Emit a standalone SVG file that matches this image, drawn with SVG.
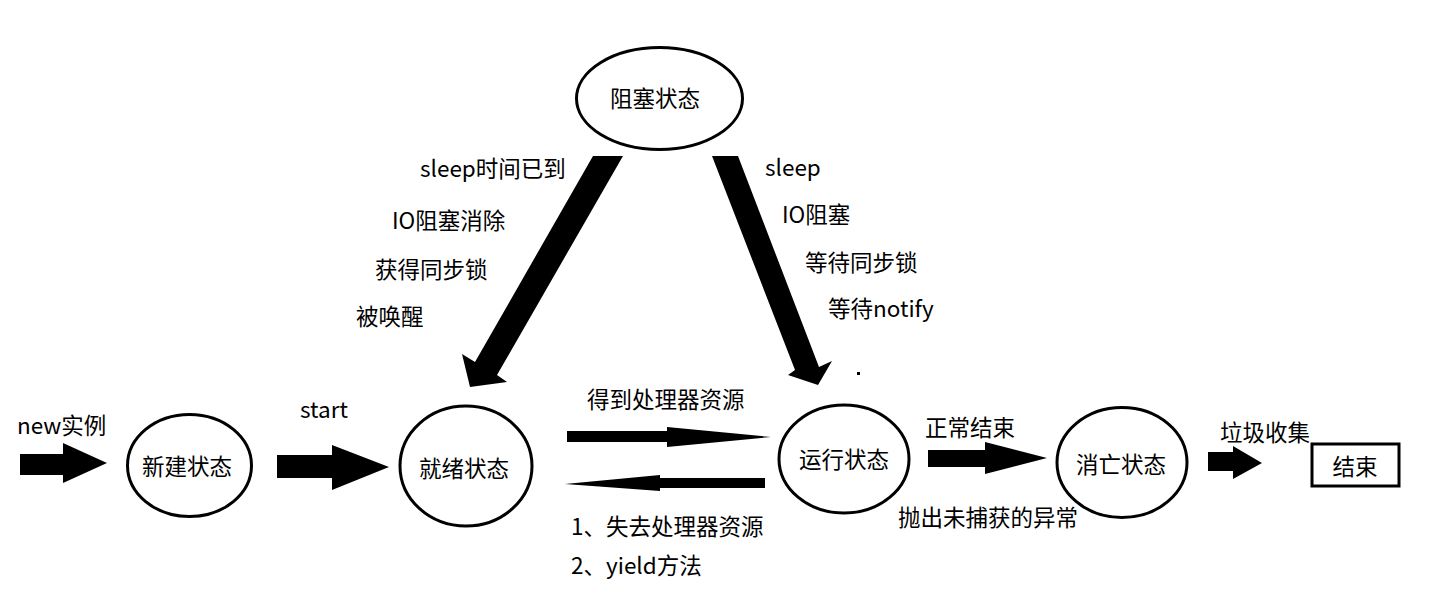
<svg xmlns="http://www.w3.org/2000/svg" width="1430" height="602" viewBox="0 0 1430 602">
<style>
.node{fill:#fff;stroke:#000;stroke-width:3}
.t{font-family:"Noto Sans CJK SC","Liberation Sans",sans-serif;font-size:22.5px;fill:#000}
.c{text-anchor:middle;dominant-baseline:central}
.arr{fill:#000;stroke:none}
</style>
<rect width="1430" height="602" fill="#fff"/>
<g id="connectors">
<polygon class="arr" points="20,454 63,454 63,443 107,463 63,483 63,475 20,475"/>
<polygon class="arr" points="277,455 332,455 332,445 389,467 332,490 332,478 277,478"/>
<polygon class="arr" points="593,156 623,156 497,375 507,382 470,387 462,354 475,362"/>
<polygon class="arr" points="712,156 738,156 819,367 832,361 818,385 788,375 795,370"/>
<polygon class="arr" points="567,431 667,431 667,427 771,437 667,447 667,442 567,442"/>
<polygon class="arr" points="765,478 660,478 660,475 565,484 660,491 660,488 765,488"/>
<polygon class="arr" points="928,450 985,450 985,442 1047,458 985,474 985,467 928,467"/>
<polygon class="arr" points="1208,452 1233,452 1233,446 1262,463 1233,479 1233,471 1208,471"/>
<rect x="857" y="372" width="3" height="3" fill="#000"/>
</g>
<g id="n-block"><ellipse class="node" cx="659.5" cy="98.5" rx="83" ry="51"/><text class="t c" x="655" y="97">阻塞状态</text></g>
<g id="n-new"><ellipse class="node" cx="189.5" cy="465.5" rx="62" ry="51"/><text class="t c" x="187" y="465">新建状态</text></g>
<g id="n-ready"><ellipse class="node" cx="466" cy="466" rx="66" ry="60"/><text class="t c" x="464" y="467">就绪状态</text></g>
<g id="n-run"><ellipse class="node" cx="844" cy="459" rx="65" ry="54"/><text class="t c" x="844" y="458">运行状态</text></g>
<g id="n-dead"><ellipse class="node" cx="1122" cy="462.5" rx="65" ry="55"/><text class="t c" x="1121" y="463">消亡状态</text></g>
<g id="n-end"><rect class="node" x="1312" y="444" width="87" height="42"/><text class="t c" x="1355" y="465">结束</text></g>
<g id="labels">
<text class="t" x="17" y="434">new实例</text>
<text class="t" x="300" y="418">start</text>
<text class="t" x="420" y="177">sleep时间已到</text>
<text class="t" x="392" y="229">IO阻塞消除</text>
<text class="t" x="375" y="278">获得同步锁</text>
<text class="t" x="356" y="325">被唤醒</text>
<text class="t" x="765" y="176">sleep</text>
<text class="t" x="782" y="223">IO阻塞</text>
<text class="t" x="805" y="271">等待同步锁</text>
<text class="t" x="828" y="317">等待notify</text>
<text class="t" x="587" y="408">得到处理器资源</text>
<text class="t" x="571" y="535">1、失去处理器资源</text>
<text class="t" x="571" y="574">2、yield方法</text>
<text class="t" x="925" y="436">正常结束</text>
<text class="t" x="898" y="526">抛出未捕获的异常</text>
<text class="t" x="1220" y="441">垃圾收集</text>
</g>
</svg>
